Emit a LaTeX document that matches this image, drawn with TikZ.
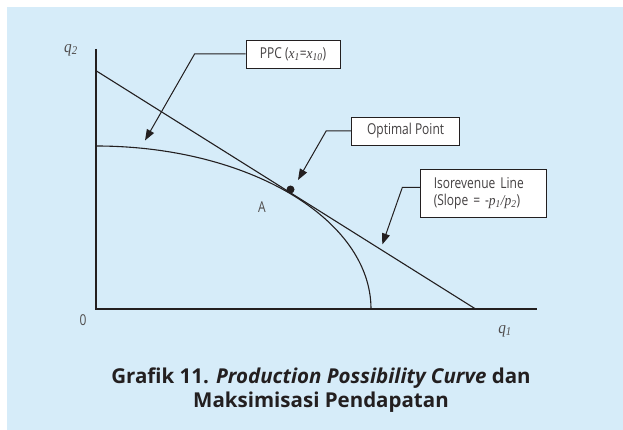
\documentclass[tikz,border=0pt]{standalone}
\usepackage{fontspec}
\usetikzlibrary{arrows.meta}
\usetikzlibrary{positioning}
\setmainfont{Open Sans}
\newfontfamily\condensed{Open Sans}[FakeStretch=0.8]
\newfontfamily\serifit{Liberation Serif}[FakeStretch=0.9]
\definecolor{sky}{HTML}{D6ECF9}
\definecolor{ink}{HTML}{231F20}
\newcommand\var[2]{{\serifit\itshape #1\textsubscript{#2}}}
\tikzset{
  callout/.style={draw=ink,fill=white,line width=0.9pt,inner sep=0pt,
    font=\condensed\fontsize{15}{17}\selectfont,text=ink!85},
  pointer/.style={draw=ink,line width=1pt,-{Triangle[length=11pt,width=8pt]}},
  axis/.style={draw=ink,line width=1.3pt},
  curve/.style={draw=ink,line width=1.1pt},
  marks/.style={font=\condensed\fontsize{15}{17}\selectfont,text=ink!80},
  axislabel/.style={font=\fontsize{17}{20}\selectfont,text=ink!80},
  caption/.style={font=\bfseries\fontsize{20.5}{24}\selectfont,text=ink,align=center}
}

\begin{document}
\begin{tikzpicture}[x=1pt,y=-1pt]
  %
  \useasboundingbox (0,0) rectangle (623,430);
  \fill[sky] (7,7) rectangle (623,430);

  \coordinate (origin) at (96,309);
  \coordinate (ytop) at (96,49);
  \coordinate (xend) at (537,309);
  \coordinate (isoA) at (96,70.7);
  \coordinate (isoB) at (475.6,309);

  \draw[axis] (ytop) -- (origin) -- (xend);
  \draw[curve] (isoA) -- (isoB);
  \draw[curve] (96,146) arc[start angle=-90,end angle=0,x radius=275,y radius=163];

  \node[circle,fill=ink,inner sep=0pt,minimum size=8pt] (optimum) at (290.5,189.5) {};

  \node[axislabel] (qtwo) at (71,50) {\var{q}{2}};
  \node[axislabel] (qone) at (505,331) {\var{q}{1}};
  \node[marks] (zero) at (83,320) {0};
  \node[marks] (pointA) at (262,207) {A};

  % callouts
  \node[callout,minimum width=94pt,minimum height=28pt] (ppc) at (293,54)
    {PPC (\var{x}{1}={\serifit\itshape x\textsubscript{10}})};
  \node[callout,minimum width=108pt,minimum height=28pt] (optbox) at (405.6,131)
    {Optimal Point};
  \node[callout,anchor=west,text width=100pt,inner xsep=13pt,minimum height=48pt,align=left] (isobox) at (420.3,193)
    {Isorevenue Line\\(Slope = -{\serifit\itshape p\textsubscript{1}/p\textsubscript{2}})};

  \coordinate (ppcTip) at (145,140.5);
  \coordinate (optTip) at (298,180);
  \coordinate (isoTip) at (382.3,244.5);

  \draw[pointer] (ppc.west) -- ++(-51,0) -- (ppcTip);
  \draw[pointer] (optbox.west) -- ++(-25,0) -- (optTip);
  \draw[pointer] (isobox.west |- 0,187.5) -- ++(-18,0) -- (isoTip);

  \node[caption] (title) at (321,390)
    {Grafik 11. \textit{Production Possibility Curve} dan\\Maksimisasi Pendapatan};

\end{tikzpicture}
\end{document}
